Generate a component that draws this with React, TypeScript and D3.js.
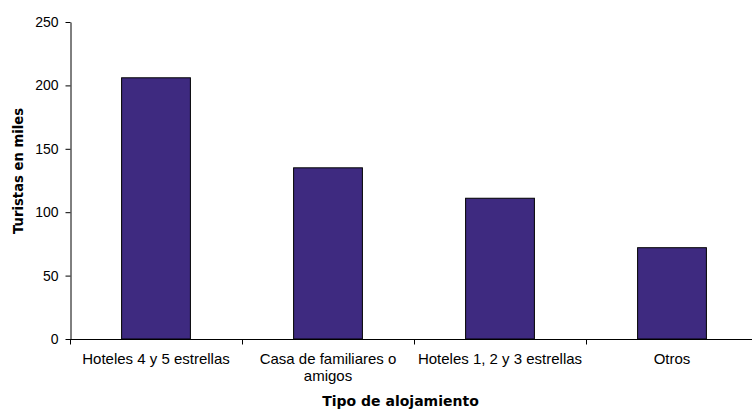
import React, { useEffect, useRef } from "react";
import * as d3 from "d3";

const categories = [
  "Hoteles 4 y 5 estrellas",
  "Casa de familiares o amigos",
  "Hoteles 1, 2 y 3 estrellas",
  "Otros",
];
const values = [206, 135, 111, 72];
const yTicks = [0, 50, 100, 150, 200, 250];
const yTitle = "Turistas en miles";
const xTitle = "Tipo de alojamiento";

const W = 752;
const H = 410;
const margin = { left: 70, right: -6, top: 22, bottom: 71 };

function wrap(text: string, maxW: number, font: string): string[] {
  const c = document.createElement("canvas").getContext("2d")!;
  c.font = font;
  const words = text.split(" ");
  const lines: string[] = [];
  let cur = "";
  for (const w of words) {
    const t = cur ? cur + " " + w : w;
    if (c.measureText(t).width > maxW && cur) {
      lines.push(cur);
      cur = w;
    } else cur = t;
  }
  if (cur) lines.push(cur);
  return lines;
}

export default function App() {
  const ref = useRef<SVGSVGElement>(null);
  useEffect(() => {
    const svg = d3.select(ref.current);
    svg.selectAll("*").remove();
    const x0 = margin.left;
    const x1 = W - margin.right;
    const y0 = H - margin.bottom;
    const y1 = margin.top;
    const x = d3.scaleBand<string>().domain(categories).range([x0, x1]).padding(0);
    const y = d3.scaleLinear().domain([0, 250]).range([y0, y1]);
    const catFont = "15px 'Liberation Sans', Arial, sans-serif";

    // bars
    const bw = x.bandwidth() * 0.4;
    svg
      .append("g")
      .selectAll("rect")
      .data(categories)
      .join("rect")
      .attr("x", (d) => x(d)! + x.bandwidth() / 2 - bw / 2)
      .attr("y", (d, i) => y(values[i]))
      .attr("width", bw)
      .attr("height", (d, i) => y0 - y(values[i]))
      .attr("fill", "#3E2A80")
      .attr("stroke", "#000")
      .attr("stroke-width", 1);

    // y axis
    const ya = svg.append("g").attr("transform", `translate(${x0 + 0.5},0)`);
    ya.call(
      d3.axisLeft(y).tickValues(yTicks).tickSize(5).tickSizeOuter(0).tickPadding(7)
    );
    ya.selectAll("text")
      .attr("font-family", "'Liberation Sans', Arial, sans-serif")
      .attr("font-size", 14)
      .attr("fill", "#000");
    ya.selectAll("line,path").attr("stroke", "#000");

    // x axis
    const xa = svg.append("g").attr("transform", `translate(0,${y0 + 0.5})`);
    xa.append("line").attr("x1", x0).attr("x2", x1).attr("stroke", "#000");
    const bounds = categories.map((c) => x(c)!).concat([x1]);
    xa.selectAll("line.tick")
      .data(bounds)
      .join("line")
      .attr("class", "tick")
      .attr("x1", (d) => Math.round(d) + 0.5)
      .attr("x2", (d) => Math.round(d) + 0.5)
      .attr("y1", 0)
      .attr("y2", 5)
      .attr("stroke", "#000");
    categories.forEach((c) => {
      const lines = wrap(c, x.bandwidth() + 2, catFont);
      const t = xa
        .append("text")
        .attr("x", x(c)! + x.bandwidth() / 2)
        .attr("y", 24.5)
        .attr("text-anchor", "middle")
        .attr("font-family", "'Liberation Sans', Arial, sans-serif")
        .attr("font-size", 15)
        .attr("fill", "#000");
      lines.forEach((l, i) => {
        t.append("tspan")
          .attr("x", x(c)! + x.bandwidth() / 2)
          .attr("dy", i === 0 ? 0 : 17)
          .text(l);
      });
    });

    // titles
    svg
      .append("text")
      .attr("x", 400.5)
      .attr("y", 406)
      .attr("text-anchor", "middle")
      .attr("font-family", "'DejaVu Sans', Verdana, sans-serif")
      .attr("font-weight", "bold")
      .attr("font-size", 14)
      .text(xTitle);
    svg
      .append("text")
      .attr("transform", `translate(23,171) rotate(-90)`)
      .attr("text-anchor", "middle")
      .attr("font-family", "'DejaVu Sans', Verdana, sans-serif")
      .attr("font-weight", "bold")
      .attr("font-size", 13.2)
      .text(yTitle);
  }, []);
  return (
    <svg
      ref={ref}
      width={W}
      height={H}
      style={{ position: "absolute", left: 0, top: 0, background: "#fff" }}
    />
  );
}
